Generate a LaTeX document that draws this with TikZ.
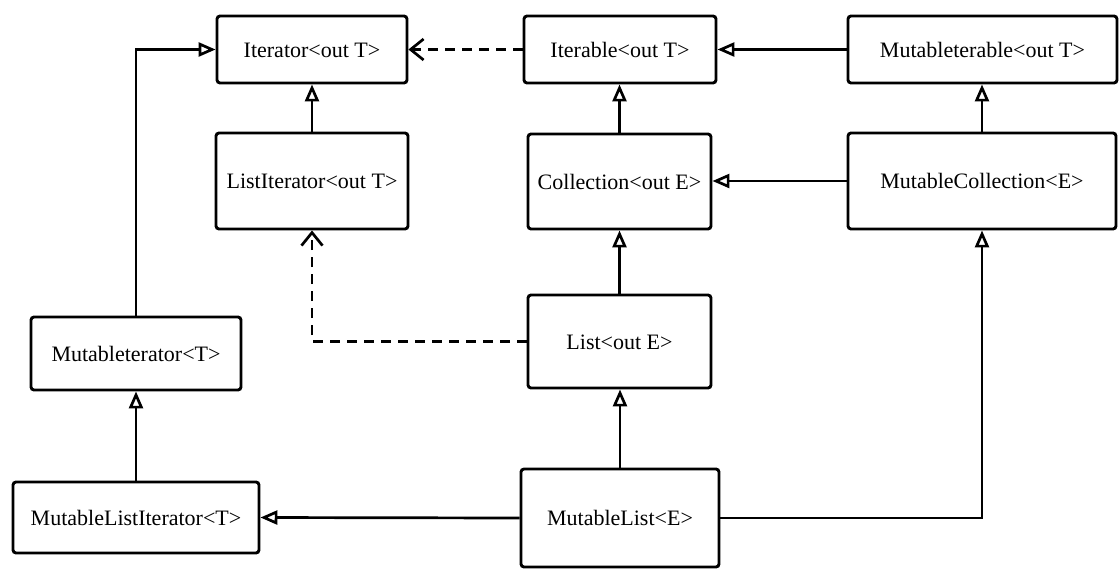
\documentclass[tikz,border=0pt]{standalone}
\usepackage{fontspec}
\setmainfont{Liberation Serif}
\usetikzlibrary{arrows.meta}
\begin{document}
\begin{tikzpicture}[x=1pt,y=-1pt,
  box/.style={draw, line width=2.9pt, rounded corners=3pt, fill=white, inner sep=0pt,
    font=\fontsize{22}{26}\selectfont, text height=15pt, text depth=0pt, align=center},
  inh/.style={line width=2.7pt, -{Triangle[open, length=17pt, width=14pt, line width=2.7pt]}},
  dep/.style={line width=2.7pt, dash pattern=on 10pt off 7pt,
    -{Straight Barb[length=13pt, width=21pt, line width=2.7pt]}}]
\path[use as bounding box, fill=white] (0,0) rectangle (1120,587);

\node[box, minimum width=190pt, minimum height=67pt] (it) at (312,49.5) {Iterator<out T>};
\node[box, minimum width=192pt, minimum height=67pt] (ible) at (620,49.5) {Iterable<out T>};
\node[box, minimum width=269pt, minimum height=67pt] (mible) at (982.5,49.5) {Mutableterable<out T>};
\node[box, minimum width=192pt, minimum height=96pt] (lit) at (312,181) {ListIterator<out T>};
\node[box, minimum width=183pt, minimum height=95pt] (col) at (619.5,181.5) {Collection<out E>};
\node[box, minimum width=268pt, minimum height=96pt] (mcol) at (982,181) {MutableCollection<E>};
\node[box, minimum width=183pt, minimum height=93pt] (list) at (619.5,341.5) {List<out E>};
\node[box, minimum width=210pt, minimum height=73pt] (mit) at (136,353.5) {Mutableterator<T>};
\node[box, minimum width=246pt, minimum height=71pt] (mlit) at (136,517.5) {MutableListIterator<T>};
\node[box, minimum width=198pt, minimum height=98pt] (mlist) at (620,518) {MutableList<E>};

\draw[dep] (ible.west) -- (it.east);
\draw[inh] (mible.west) -- (ible.east);
\draw[inh] (lit.north) -- (it.south);
\draw[inh] (col.north) -- (col.north |- ible.south);
\draw[inh] (mcol.north) -- (mcol.north |- mible.south);
\draw[inh] (mcol.west) -- (mcol.west -| col.east);
\draw[inh] (list.north) -- (col.south);
\draw[dep] (list.west) -| (lit.south);
\draw[inh] (mit.north) |- (it.west);
\draw[inh] (mlit.north) -- (mit.south);
\draw[inh] (mlist.north) -- (mlist.north |- list.south);
\draw[inh] (mlist.west) -- (mlit.east);
\draw[inh] (mlist.east) -| (mcol.south);
\end{tikzpicture}
\end{document}
